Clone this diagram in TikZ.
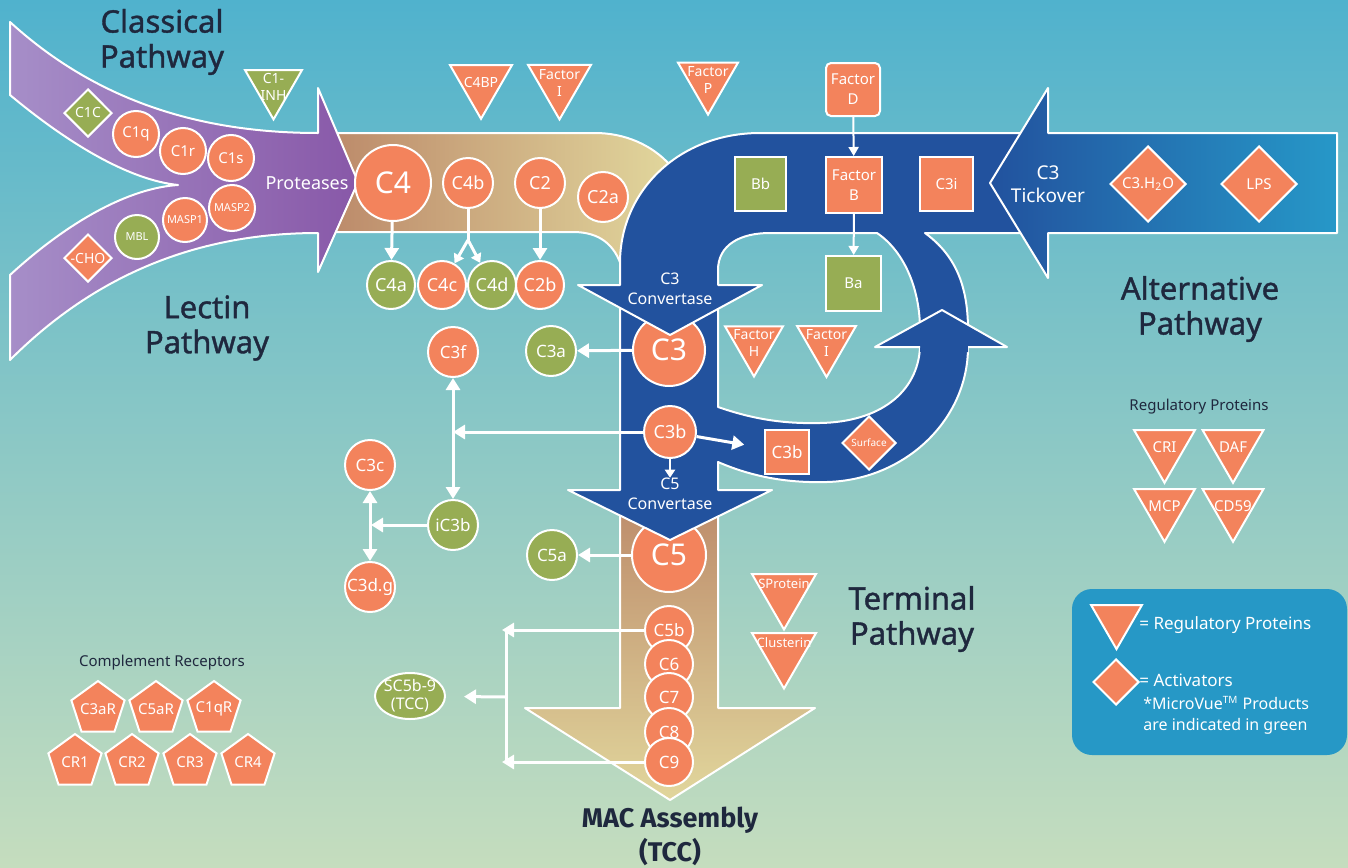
\documentclass[tikz,border=0pt]{standalone}
\usepackage{fontspec}
\setmainfont{Noto Sans}
\newfontfamily\headfont{Noto Sans}[FakeBold=1.2]
\newfontfamily\macfont{Fira Sans}
\usetikzlibrary{shapes.geometric,arrows.meta}

\definecolor{corange}{RGB}{243,131,92}
\definecolor{cgreen}{RGB}{151,173,84}
\definecolor{cblue}{RGB}{34,82,158}
\definecolor{clight}{RGB}{38,152,200}
\definecolor{cink}{RGB}{31,40,62}
\definecolor{cplum}{RGB}{136,88,168}
\definecolor{clilac}{RGB}{166,142,200}
\definecolor{ctan}{RGB}{188,138,106}
\definecolor{cgold}{RGB}{234,193,113}
\definecolor{cpale}{RGB}{225,214,156}
\definecolor{ctop}{RGB}{80,178,205}
\definecolor{cmid}{RGB}{138,206,210}
\definecolor{cbot}{RGB}{197,221,190}
\definecolor{clegend}{RGB}{38,152,198}

\newcommand{\fsz}[2]{\fontsize{#1}{#2}\selectfont}

\tikzset{
  rim/.style={draw=white, line width=1pt, line join=round},
  orb/.style={circle, draw=white, line width=1pt, fill=corange, text=white,
    inner sep=0pt, minimum size=#1pt, font=\fsz{9}{10}},
  orb/.default=25,
  mv/.style={fill=cgreen},
  box/.style={rectangle, draw=white, line width=1pt, fill=corange, text=white,
    inner sep=0pt, align=center, font=\fsz{7.5}{10}},
  reg/.style={regular polygon, regular polygon sides=3, shape border rotate=180,
    draw=white, line width=1pt, fill=corange, inner sep=0pt, minimum size=#1pt},
  act/.style={diamond, draw=white, line width=1pt, fill=corange, text=white,
    inner sep=0pt, minimum size=#1pt, font=\fsz{7}{8}},
  rcpt/.style={regular polygon, regular polygon sides=5, draw=white, line width=1pt,
    fill=corange, inner sep=0pt, minimum size=28pt},
  lbl/.style={text=white, align=center, inner sep=0pt, font=\fsz{7}{8.5}},
  headline/.style={text=cink, align=center, font=\headfont\fsz{15.5}{17.5}},
  flow/.style={draw=white, line width=1.5pt, -{Triangle[length=6pt,width=7pt]}},
  twoway/.style={draw=white, line width=1.5pt,
    {Triangle[length=6pt,width=7pt]}-{Triangle[length=6pt,width=7pt]}},
  thinflow/.style={draw=white, line width=1pt, -{Triangle[length=4.5pt,width=5pt]}}
}

\begin{document}
\begin{tikzpicture}[x=0.5pt,y=-0.5pt]
\useasboundingbox (0,0) rectangle (1348,867);
\fill[top color=ctop, middle color=cmid, bottom color=cbot] (0,0) rectangle (1348,867);

% C4 band (turns down under the blue)
\path[rim, left color=ctan, middle color=cgold, right color=cpale]
  (330,133) -- (595,133) .. controls (625,133) and (652,145) .. (670,165)
  -- (660,250) -- (640,300) -- (622,300) -- (622,268)
  .. controls (615,245) and (600,232) .. (573,232) -- (330,232) -- cycle;

% classical + lectin arrow
\path[rim, left color=clilac, right color=cplum]
  (10,22) .. controls (90,95) and (190,133) .. (318,133) -- (318,88) -- (358,182)
  -- (318,272) -- (318,233) .. controls (190,233) and (90,280) .. (10,360)
  -- (10,275) .. controls (70,220) and (130,188) .. (178,185)
  .. controls (130,180) and (70,145) .. (10,95) -- cycle;

% terminal arrow
\path[rim, top color=ctan, middle color=cgold, bottom color=cpale]
  (620,495) -- (620,708) -- (525,708) -- (670,800) -- (815,708) -- (718,708) -- (718,495) -- cycle;

\node[orb=37, font=\fsz{15}{16}] (C5) at (669,555) {C5};

% C5 convertase stem + amplification loop
\fill[cblue] (620,295) -- (620,490) -- (568,490) -- (670,540) -- (772,490) -- (718,490) -- (718,462)
  .. controls (755,478) and (790,483) .. (827,482) .. controls (905,480) and (968,420) .. (968,347)
  -- (920,347) .. controls (918,392) and (880,422) .. (820,423)
  .. controls (780,424) and (750,418) .. (718,407) -- (718,295) -- cycle;
\draw[rim] (920,347) .. controls (918,392) and (880,422) .. (820,423)
  .. controls (780,424) and (750,418) .. (718,407) -- (718,295);
\draw[rim] (620,295) -- (620,490) -- (568,490) -- (670,540) -- (772,490) -- (718,490) -- (718,462)
  .. controls (755,478) and (790,483) .. (827,482) .. controls (905,480) and (968,420) .. (968,347);

\node[orb=36, font=\fsz{15}{16}] (C3) at (669,350) {C3};

% C3 convertase + top shaft
\path[rim, fill=cblue] (1030,133) -- (760,133) .. controls (680,133) and (620,190) .. (620,263)
  -- (620,285) -- (578,285) -- (670,335) -- (762,285) -- (718,285) -- (718,270)
  .. controls (718,245) and (740,233) .. (770,233) -- (877,233)
  .. controls (905,252) and (920,290) .. (920,330) -- (968,330)
  .. controls (968,285) and (955,255) .. (925,233) -- (1030,233) -- cycle;

% loop head
\fill[cblue] (875,347) -- (942,310) -- (1007,347) -- (968,347) -- (968,352) -- (920,352) -- (920,347) -- cycle;
\draw[rim] (920,347) -- (875,347) -- (942,310) -- (1007,347) -- (968,347);

% C3 tickover arrow
\path[rim, left color=cblue, right color=clight]
  (1337,133) -- (1048,133) -- (1048,88) -- (990,183) -- (1048,278) -- (1048,233) -- (1337,233) -- cycle;

% titles
\node[headline] (classical) at (162,42) {Classical\\Pathway};
\node[headline] (lectin) at (207,328) {Lectin\\Pathway};
\node[headline] (alternative) at (1200,309) {Alternative\\Pathway};
\node[headline] (terminal) at (912,619) {Terminal\\Pathway};
\node[headline, font=\macfont\bfseries\fsz{13.5}{17}] (mac) at (670,836) {MAC Assembly\\(TCC)};

% classical / lectin
\node[act=24, mv] (C1C) at (88,113) {C1C};
\node[act=24] (CHO) at (88,258) {-CHO};
\node[orb=23, font=\fsz{7.5}{9}] (C1q) at (136,134) {C1q};
\node[orb=23, font=\fsz{7.5}{9}] (C1r) at (183,151) {C1r};
\node[orb=23, font=\fsz{7.5}{9}] (C1s) at (231,158) {C1s};
\node[orb=22, mv, font=\fsz{5.5}{6}] (MBL) at (137,237) {MBL};
\node[orb=22, font=\fsz{5.5}{6}] (MASP1) at (185,220) {MASP1};
\node[orb=23, font=\fsz{5.5}{6}] (MASP2) at (232,208) {MASP2};
\node[reg=32.9, mv, label={[lbl]center:{C1-\\INH}}] (C1INH) at (273.5,86.5) {};
\node[lbl, font=\fsz{9}{10}] (prot) at (307,183) {Proteases};

% C4 band
\node[orb=38, font=\fsz{15}{16}] (C4) at (393,183) {C4};
\node[orb] (C4b) at (468,183) {C4b};
\node[orb] (C2) at (540,183) {C2};
\node[orb] (C2a) at (603,197) {C2a};
\node[orb=24, mv] (C4a) at (391,285) {C4a};
\node[orb=24] (C4c) at (442,285) {C4c};
\node[orb=24, mv] (C4d) at (492,285) {C4d};
\node[orb=24] (C2b) at (540,285) {C2b};
\coordinate (split) at (468,240);
\draw[flow] (C4) -- (C4a);
\draw[draw=white, line width=1.5pt] (C4b) -- (split);
\draw[draw=white, line width=1.5pt, -{Triangle[length=4.5pt,width=5.5pt]}] (split) -- (C4c);
\draw[draw=white, line width=1.5pt, -{Triangle[length=4.5pt,width=5.5pt]}] (split) -- (C4d);
\draw[flow] (C2) -- (C2b);
\node[reg=35.8, label={[lbl]center:C4BP}] (C4BP) at (481,83) {};
\node[reg=36.4, label={[lbl]center:{Factor\\I}}] (FI1) at (559.5,83) {};
\node[reg=34.6, label={[lbl]center:{Factor\\P}}] (FP) at (708,80) {};

% alternative pathway
\node[box, rounded corners=2.5pt, minimum width=27pt, minimum height=26.5pt] (FD) at (853,89.5) {Factor\\D};
\node[box, mv, minimum width=25.5pt, minimum height=27pt] (Bb) at (760.5,184) {Bb};
\node[box, minimum width=28pt, minimum height=28pt] (FB) at (854,185) {Factor\\B};
\node[box, minimum width=26.5pt, minimum height=27pt] (C3i) at (946.5,184) {C3i};
\node[box, mv, minimum width=27.5pt, minimum height=27.5pt] (Ba) at (853.5,283.5) {Ba};
\draw[thinflow] (FD) -- (FB);
\draw[thinflow] (FB) -- (Ba);
\node[lbl, font=\fsz{9.5}{11.5}] (tick) at (1048,184) {C3\\Tickover};
\node[act=38, font=\fsz{7.5}{8}] (C3H2O) at (1148,184) {C3.H\textsubscript{2}O};
\node[act=38, font=\fsz{7.5}{8}] (LPS) at (1259,184) {LPS};
\node[reg=33.5, label={[lbl]center:{Factor\\H}}] (FH) at (754,343) {};
\node[reg=34, label={[lbl]center:{Factor\\I}}] (FI2) at (826.5,343) {};
\node[box, minimum width=22pt, minimum height=22pt, font=\fsz{8.5}{10}] (C3bx) at (787,452) {C3b};
\node[act=27, font=\fsz{5}{6}] (Surf) at (869,443) {Surface};

% C3 cleavage
\node[lbl, font=\fsz{8}{10}] (c3cv) at (670,289) {C3\\Convertase};
\node[orb, mv, font=\fsz{8.5}{10}] (C3a) at (551,351) {C3a};
\node[orb=26] (C3b) at (670,432) {C3b};
\node[lbl, font=\fsz{8}{10}] (c5cv) at (670,494) {C5\\Convertase};
\node[orb, font=\fsz{8.5}{10}] (C3f) at (453,352) {C3f};
\node[orb, mv, font=\fsz{8.5}{10}] (iC3b) at (453,525) {iC3b};
\node[orb, font=\fsz{8.5}{10}] (C3c) at (370,465) {C3c};
\node[orb, font=\fsz{8.5}{10}] (C3dg) at (370,587) {C3d.g};
\coordinate (tap) at (453,432);
\coordinate (tap2) at (371,525);
\draw[flow] (C3) -- (C3a);
\draw[flow] (C3b) -- (tap);
\draw[twoway] (C3f) -- (iC3b);
\draw[flow] (iC3b) -- (tap2);
\draw[twoway] (C3c) -- (C3dg);
\draw[flow, shorten >=10pt] (C3b) -- (C3bx);
\draw[draw=white, line width=1.2pt, -{Triangle[length=4pt,width=5pt]}] (C3b) -- (c5cv);

% terminal pathway
\node[orb, mv, font=\fsz{8.5}{10}] (C5a) at (552,555) {C5a};
\draw[flow] (C5) -- (C5a);
\foreach \n/\y in {C5b/630, C6/664, C7/697, C8/732, C9/762}
  \node[orb=24, font=\fsz{8.5}{10}] (\n) at (669,\y) {\n};
\node[ellipse, draw=white, line width=1pt, fill=cgreen, minimum width=35pt, minimum height=23pt,
  label={[lbl, font=\fsz{8}{9}]center:{SC5b-9\\(TCC)}}] (TCC) at (410,696) {};
\coordinate (t5) at (502,630);
\coordinate (t9) at (502,762);
\coordinate (r5) at (506,630);
\coordinate (r9) at (506,762);
\coordinate (mid) at (506,697);
\draw[draw=white, line width=1.5pt] (r5) -- (r9);
\draw[flow] (C5b) -- (t5);
\draw[flow] (C9) -- (t9);
\draw[flow, shorten >=9pt] (mid) -- (TCC);
\node[reg=37, label={[lbl, font=\fsz{6.5}{7}, yshift=4.5pt]center:SProtein}] (SP) at (784,592.5) {};
\node[reg=37, label={[lbl, font=\fsz{6.5}{7}, yshift=4.5pt]center:Clusterin}] (CLU) at (784,651.5) {};

% regulatory proteins
\node[text=cink, font=\fsz{7.5}{8}] (regtitle) at (1199,407) {Regulatory Proteins};
\foreach \n/\x/\y in {CRI/1164.5/447.6, DAF/1233/447.6, MCP/1164.5/506.6, CD59/1233/506.6}
  \node[reg=35.2, label={[lbl, font=\fsz{7.5}{8}]center:\n}] (\n) at (\x,\y) {};

% complement receptors
\node[text=cink, font=\fsz{7.5}{8}] (rectitle) at (162,663) {Complement Receptors};
\foreach \n/\x/\y in {C3aR/98/709, C5aR/156/709, C1qR/214/709, CR1/75/762, CR2/132/762, CR3/190/762, CR4/248/762}
  \node[rcpt, label={[lbl, font=\fsz{7.5}{8}]center:\n}] (\n) at (\x,\y) {};

% legend
\fill[clegend, rounded corners=10pt] (1072,589) rectangle (1347,755);
\node[reg=29.4] (keyreg) at (1116.5,619.7) {};
\node[act=23] (keyact) at (1116,682) {};
\node[anchor=west, text=white, inner sep=0pt, font=\fsz{8.5}{10}] (keyregtxt) at (1139,625) {= Regulatory Proteins};
\node[anchor=west, text=white, inner sep=0pt, font=\fsz{8.5}{10}] (keyacttxt) at (1139,680) {= Activators};
\node[anchor=north west, text=white, inner sep=0pt, align=left, font=\fsz{8}{10.5}] (note) at (1143,696)
  {*MicroVue\textsuperscript{\fsz{5}{6}TM} Products\\are indicated in green};
\end{tikzpicture}
\end{document}
